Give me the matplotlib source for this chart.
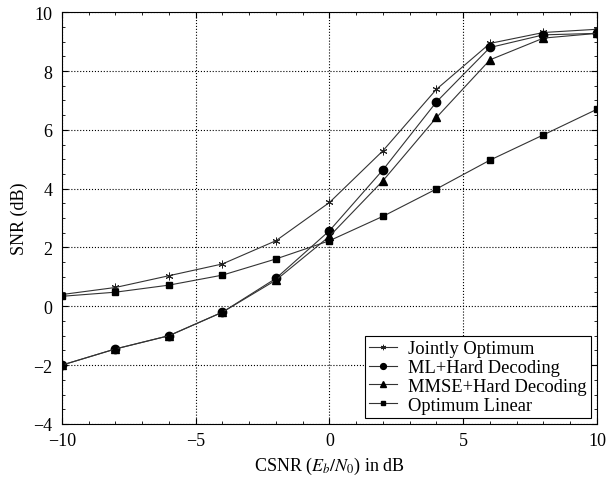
import matplotlib
matplotlib.use("Agg")
import matplotlib.pyplot as plt
from matplotlib.ticker import MultipleLocator

plt.rcParams['font.family'] = ['Liberation Serif', 'DejaVu Serif']
plt.rcParams['mathtext.fontset'] = 'stix'

csnr = [-10, -8, -6, -4, -2, 0, 2, 4, 6, 8, 10]
jointly = [0.4, 0.64, 1.04, 1.44, 2.23, 3.53, 5.29, 7.38, 8.94, 9.31, 9.42]
ml_hard = [-2.0, -1.45, -1.0, -0.2, 0.95, 2.57, 4.64, 6.95, 8.8, 9.23, 9.28]
mmse_hard = [-2.0, -1.45, -1.0, -0.2, 0.89, 2.38, 4.27, 6.42, 8.38, 9.12, 9.28]
opt_linear = [0.34, 0.48, 0.72, 1.06, 1.61, 2.23, 3.06, 3.99, 4.97, 5.83, 6.70]

fig = plt.figure(figsize=(6.07, 4.89), dpi=100)
ax = fig.add_axes([0.102, 0.131, 0.8815, 0.842])

lc = '#333333'
ax.plot(csnr, jointly, color=lc, lw=0.8, marker=(6, 2, 0), ms=5.5, mec='#222222', mew=0.7, label='Jointly Optimum')
ax.plot(csnr, ml_hard, color=lc, lw=0.8, marker='o', ms=6, mfc='black', mec='black', label='ML+Hard Decoding')
ax.plot(csnr, mmse_hard, color=lc, lw=0.8, marker='^', ms=6, mfc='black', mec='black', label='MMSE+Hard Decoding')
ax.plot(csnr, opt_linear, color=lc, lw=0.8, marker='s', ms=5, mfc='black', mec='black', label='Optimum Linear')

ax.set_xlim(-10, 10)
ax.set_ylim(-4, 10)
ax.xaxis.set_major_locator(MultipleLocator(5))
ax.yaxis.set_major_locator(MultipleLocator(2))
ax.xaxis.set_minor_locator(MultipleLocator(1))
ax.yaxis.set_minor_locator(MultipleLocator(0.5))
ax.tick_params(which='both', direction='in', top=True, right=True, labelsize=13)
ax.tick_params(axis='y', which='major', pad=7)
ax.tick_params(axis='x', which='major', pad=6)
ax.tick_params(which='major', length=4)
ax.tick_params(which='minor', length=2)
ax.grid(True, which='major', linestyle=':', color='black', lw=0.8)
for s in ax.spines.values():
    s.set_linewidth(0.8)

ax.set_xlabel('CSNR ($E_b/N_0$) in dB', fontsize=13)
ax.set_ylabel('SNR (dB)', fontsize=13)

leg = ax.legend(loc='lower right', fontsize=13.3, fancybox=False, edgecolor='black',
                framealpha=1, borderpad=0.25, labelspacing=0.1, handlelength=1.5,
                handletextpad=0.6, borderaxespad=0.3, markerscale=0.7)
leg.get_frame().set_linewidth(0.8)

fig.savefig('out.png', dpi=100)
